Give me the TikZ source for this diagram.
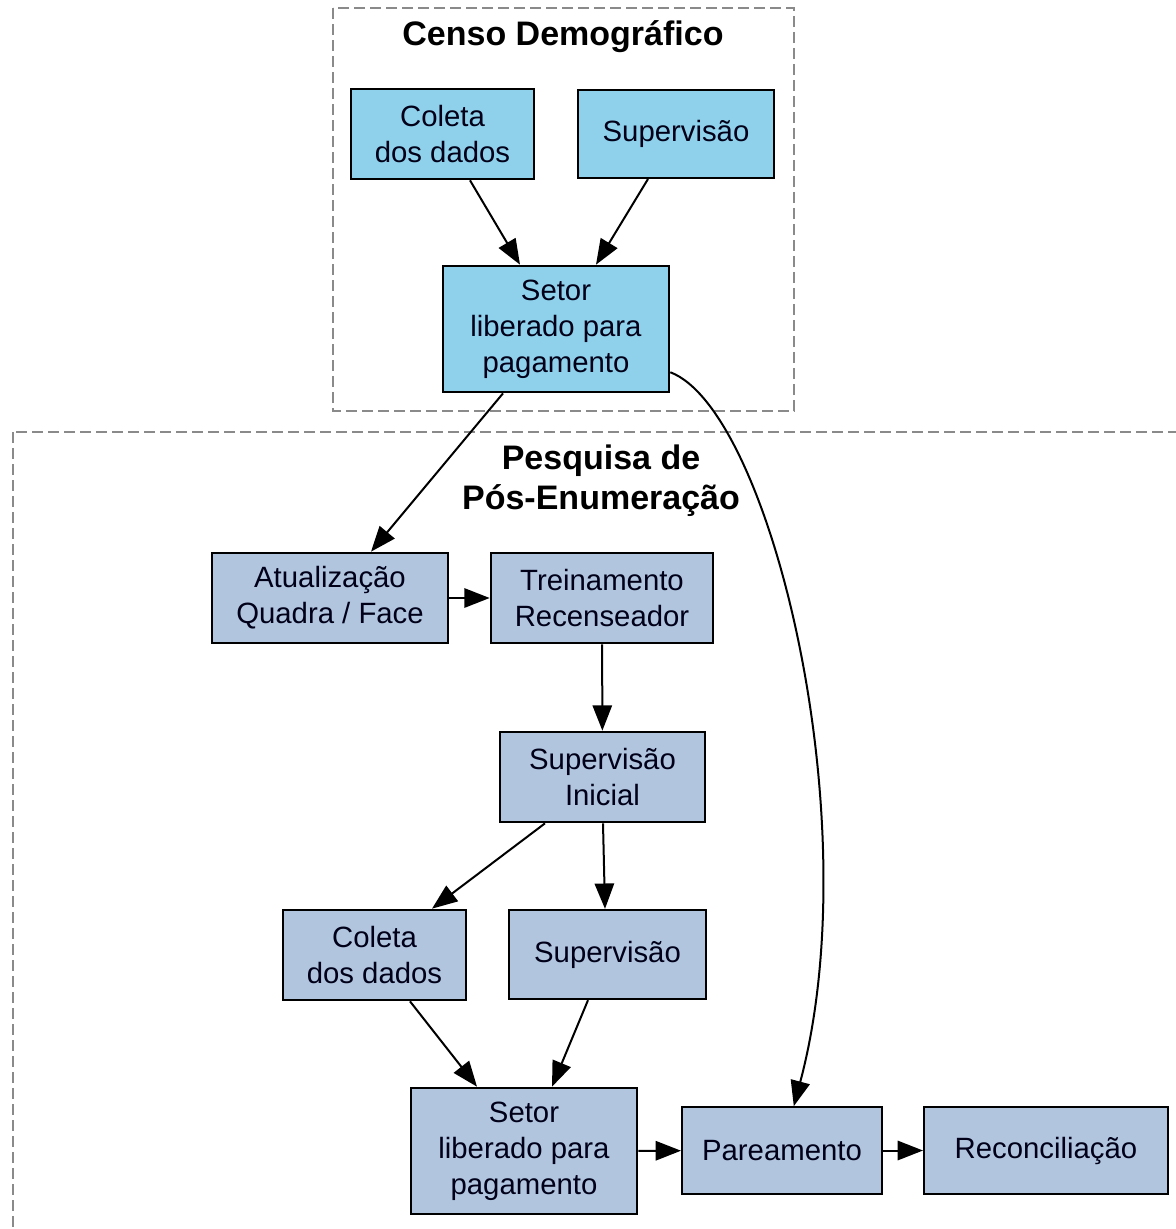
\documentclass[tikz,border=0pt]{standalone}
\usepackage{fontspec}
\setmainfont{Liberation Sans}
\usetikzlibrary{arrows.meta}
\definecolor{azulceu}{HTML}{8FD1EB}
\definecolor{azulaco}{HTML}{B1C5DF}
\definecolor{cinza}{HTML}{8A8A8A}
\begin{document}
\begin{tikzpicture}[x=0.75pt, y=-0.75pt, >={Triangle[length=19pt,width=14.5pt]},
	caixa/.style={draw, line width=1.5pt, align=center, inner sep=0pt,
		font=\fontsize{22}{27}\selectfont, text=black!90!blue},
	censo/.style={caixa, fill=azulceu},
	pesq/.style={caixa, fill=azulaco},
	grupo/.style={draw=cinza, line width=1.3pt, dash pattern=on 8pt off 4pt},
	titulo/.style={font=\fontsize{25.5}{30}\selectfont\bfseries, align=center},
	seta/.style={->, line width=1.5pt}]
	\useasboundingbox (0,0) rectangle (1176,1229);

	% clusters
	\draw[grupo] (333,8) rectangle (794,411);
	\draw[grupo] (13,432) rectangle (1200,1260);
	\node[titulo] (tcenso) at (563,37) {Censo Demográfico};
	\node[titulo] (tpesq) at (601,481) {Pesquisa de\\Pós-Enumeração};

	% censo
	\node[censo, minimum width=137pt, minimum height=68pt] (coletaA) at (442.5,134) {Coleta\\dos dados};
	\node[censo, minimum width=147pt, minimum height=66pt] (supA) at (676,134) {Supervisão};
	\node[censo, minimum width=170pt, minimum height=95pt] (setorA) at (556,329) {Setor\\liberado para\\pagamento};

	% pesquisa
	\node[pesq, minimum width=177pt, minimum height=68pt] (atual) at (330,598) {Atualização\\Quadra / Face};
	\node[pesq, minimum width=167pt, minimum height=68pt] (trein) at (602,598) {Treinamento\\Recenseador};
	\node[pesq, minimum width=154pt, minimum height=68pt] (supIni) at (602.5,777) {Supervisão\\Inicial};
	\node[pesq, minimum width=137pt, minimum height=68pt] (coletaB) at (374.5,955) {Coleta\\dos dados};
	\node[pesq, minimum width=148pt, minimum height=67pt] (supB) at (607.5,954.5) {Supervisão};
	\node[pesq, minimum width=170pt, minimum height=95pt] (setorB) at (524,1151) {Setor\\liberado para\\pagamento};
	\node[pesq, minimum width=150pt, minimum height=65pt] (pareamento) at (782,1150.5) {Pareamento};
	\node[pesq, minimum width=183pt, minimum height=65pt] (reconc) at (1046,1150.5) {Reconciliação};

	\draw[seta] (coletaA.south -| 470,0) -- (setorA.north -| 520,0);
	\draw[seta] (supA.south -| 648,0) -- (setorA.north -| 596,0);
	\draw[seta] (setorA.south -| 503,0) -- (atual.north -| 371,0);
	\draw[seta] (setorA) .. controls (770,410) and (870,820) .. (pareamento);

	\draw[seta] (atual) -- (trein);
	\draw[seta] (trein) -- (supIni);
	\draw[seta] (supIni.south -| 545,0) -- (coletaB.north -| 432,0);
	\draw[seta] (supIni.south -| 603,0) -- (supB.north -| 605,0);
	\draw[seta] (coletaB.south -| 410,0) -- (setorB.north -| 477,0);
	\draw[seta] (supB.south -| 588,0) -- (setorB.north -| 552,0);
	\draw[seta] (setorB) -- (pareamento);
	\draw[seta] (pareamento) -- (reconc);
\end{tikzpicture}
\end{document}
